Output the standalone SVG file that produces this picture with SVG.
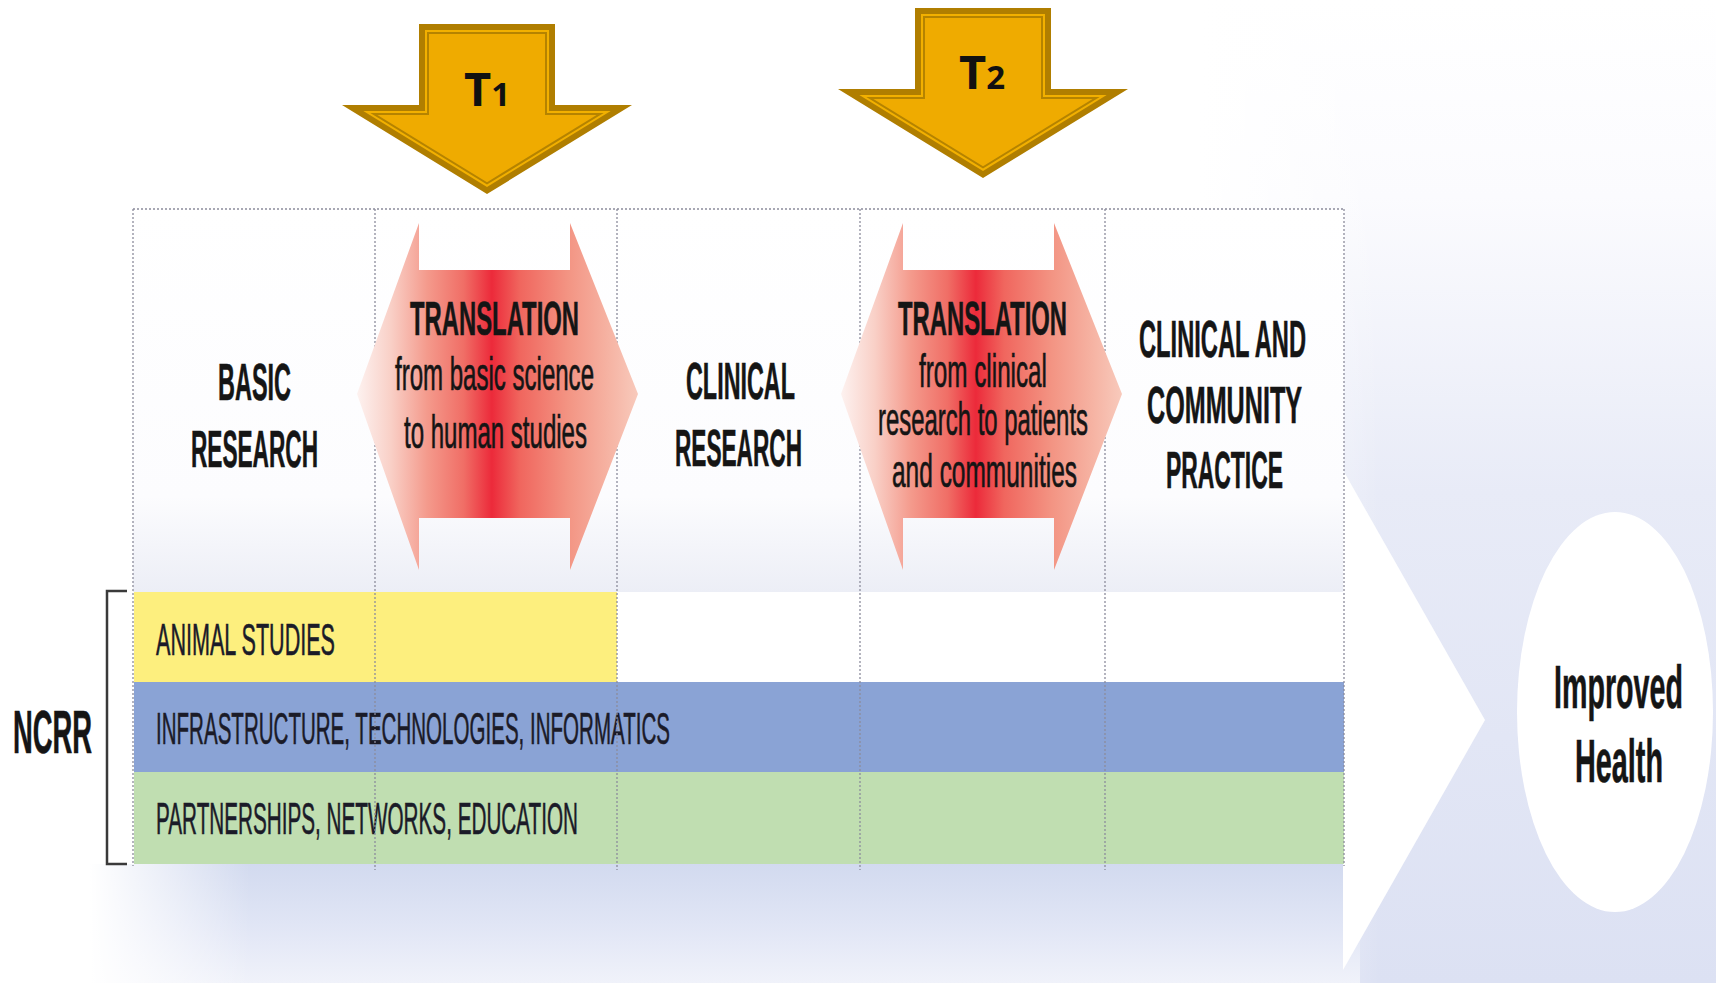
<svg xmlns="http://www.w3.org/2000/svg" xmlns:xlink="http://www.w3.org/1999/xlink" width="1716" height="983" viewBox="0 0 1716 983">
<style>
.cond{font-family:"Liberation Sans Narrow","Liberation Sans",Arial,sans-serif;fill:#151515}
.hd{font-size:52px;font-weight:bold;stroke:#151515;stroke-width:0.6}
.tr{font-size:49px;font-weight:bold;stroke:#151515;stroke-width:0.6}
.sub{font-size:47px;stroke:#151515;stroke-width:0.7}
.band{font-size:45px;fill:#1b1b28;stroke:#1b1b28;stroke-width:0.6}
.big{font-size:62px;font-weight:bold;stroke:#151515;stroke-width:0.6}
.tlab{font-family:"Open Sans","Noto Sans",sans-serif;font-weight:bold;fill:#111}
.grid{stroke:#8c8c9c;stroke-width:1.3;stroke-dasharray:2 2;fill:none}
</style>
<defs>
<linearGradient id="hexg" x1="0" y1="0" x2="1" y2="0">
<stop offset="0" stop-color="#fdf2f0"/>
<stop offset="0.12" stop-color="#f9d0c7"/>
<stop offset="0.25" stop-color="#f49a8c"/>
<stop offset="0.38" stop-color="#f06e66"/>
<stop offset="0.48" stop-color="#ec2a3a"/>
<stop offset="0.58" stop-color="#f0665e"/>
<stop offset="0.75" stop-color="#f39483"/>
<stop offset="0.9" stop-color="#f6b4a4"/>
<stop offset="1" stop-color="#f8cabc"/>
</linearGradient>
<linearGradient id="rightbg" x1="0" y1="0" x2="0" y2="1">
<stop offset="0" stop-color="#ffffff"/>
<stop offset="0.2" stop-color="#fbfbfe"/>
<stop offset="0.5" stop-color="#e8ebf7"/>
<stop offset="1" stop-color="#dce1f3"/>
</linearGradient>
<linearGradient id="botbg" x1="0" y1="0" x2="0" y2="1">
<stop offset="0" stop-color="#d2daef"/>
<stop offset="0.5" stop-color="#e0e5f5"/>
<stop offset="1" stop-color="#f0f2fa"/>
</linearGradient>
<linearGradient id="leftfade" x1="0" y1="0" x2="1" y2="0">
<stop offset="0" stop-color="#ffffff" stop-opacity="1"/>
<stop offset="1" stop-color="#ffffff" stop-opacity="0"/>
</linearGradient>
<linearGradient id="hdrbg" x1="0" y1="0" x2="0" y2="1">
<stop offset="0" stop-color="#ffffff"/>
<stop offset="0.75" stop-color="#fcfcfe"/>
<stop offset="1" stop-color="#eceef6"/>
</linearGradient>
<g id="goldArrow">
<polygon points="419,24 555,24 555,105 632,105 487,194 342,105 419,105" fill="#b07e00"/>
<polygon points="425,30 549,30 549,111 610.7,111 487,186.9 363.3,111 425,111" fill="#f2b000"/>
<polygon points="427,32 547,32 547,113 603.7,113 487,184.5 370.3,113 427,113" fill="#b58300"/>
<polygon points="429,34 545,34 545,115 596.6,115 487,182.2 377.4,115 429,115" fill="#efab00"/>
</g>
<path id="hexShape" d="M419,223 L419,270 L570,270 L570,223 L638,394 L570,570 L570,518 L419,518 L419,570 L357,394 Z"/>
</defs>

<g id="background">
<rect x="0" y="0" width="1716" height="983" fill="#ffffff"/>
<rect x="1200" y="0" width="516" height="983" fill="url(#rightbg)"/>
<rect x="1200" y="0" width="180" height="983" fill="url(#leftfade)"/>
<rect x="90" y="864" width="1270" height="119" fill="url(#botbg)"/>
<rect x="90" y="864" width="160" height="119" fill="url(#leftfade)"/>
<rect x="133" y="209" width="1211" height="383" fill="url(#hdrbg)"/>
<rect x="133" y="592" width="1211" height="90" fill="#ffffff"/>
</g>

<g id="connectors">
<polygon id="flow-chevron" points="1343,470 1485,720 1343,970" fill="#ffffff"/>
</g>

<g id="bands">
<rect id="band-animal" x="134" y="592" width="483" height="91" fill="#fdef7e"/>
<rect id="band-infra" x="134" y="682" width="1210" height="91" fill="#8aa3d5"/>
<rect id="band-partner" x="134" y="772" width="1210" height="92" fill="#c0deb1"/>
<text class="cond band" x="156" y="655" textLength="179" lengthAdjust="spacingAndGlyphs">ANIMAL STUDIES</text>
<text class="cond band" x="156" y="744" textLength="514" lengthAdjust="spacingAndGlyphs">INFRASTRUCTURE, TECHNOLOGIES, INFORMATICS</text>
<text class="cond band" x="156" y="834" textLength="422" lengthAdjust="spacingAndGlyphs">PARTNERSHIPS, NETWORKS, EDUCATION</text>
</g>

<g id="grid">
<line class="grid" x1="133" y1="209" x2="1344" y2="209"/>
<line class="grid" x1="133" y1="209" x2="133" y2="866"/>
<line class="grid" x1="375" y1="209" x2="375" y2="870"/>
<line class="grid" x1="617" y1="209" x2="617" y2="870"/>
<line class="grid" x1="860" y1="209" x2="860" y2="870"/>
<line class="grid" x1="1105" y1="209" x2="1105" y2="870"/>
<line class="grid" x1="1344" y1="209" x2="1344" y2="866"/>
</g>

<g id="t1-arrow">
<use xlink:href="#goldArrow" href="#goldArrow"/>
<text class="tlab" x="487" y="106" text-anchor="middle" font-size="47">T<tspan font-size="33">1</tspan></text>
</g>
<g id="t2-arrow">
<use xlink:href="#goldArrow" href="#goldArrow" transform="translate(496,-16)"/>
<text class="tlab" x="982" y="89" text-anchor="middle" font-size="47">T<tspan font-size="33">2</tspan></text>
</g>

<g id="translation-1">
<use xlink:href="#hexShape" href="#hexShape" fill="url(#hexg)"/>
<text class="cond tr" x="410" y="335" textLength="169" lengthAdjust="spacingAndGlyphs">TRANSLATION</text>
<text class="cond sub" x="395" y="390" textLength="199" lengthAdjust="spacingAndGlyphs">from basic science</text>
<text class="cond sub" x="404" y="448" textLength="183" lengthAdjust="spacingAndGlyphs">to human studies</text>
</g>

<g id="translation-2">
<use xlink:href="#hexShape" href="#hexShape" fill="url(#hexg)" transform="translate(484,0)"/>
<text class="cond tr" x="898" y="335" textLength="169" lengthAdjust="spacingAndGlyphs">TRANSLATION</text>
<text class="cond sub" x="919" y="387" textLength="128" lengthAdjust="spacingAndGlyphs">from clinical</text>
<text class="cond sub" x="878" y="435" textLength="210" lengthAdjust="spacingAndGlyphs">research to patients</text>
<text class="cond sub" x="892" y="487" textLength="185" lengthAdjust="spacingAndGlyphs">and communities</text>
</g>

<g id="basic-research">
<text class="cond hd" x="218" y="400" textLength="73" lengthAdjust="spacingAndGlyphs">BASIC</text>
<text class="cond hd" x="191" y="467" textLength="127" lengthAdjust="spacingAndGlyphs">RESEARCH</text>
</g>

<g id="clinical-research">
<text class="cond hd" x="686" y="399" textLength="109" lengthAdjust="spacingAndGlyphs">CLINICAL</text>
<text class="cond hd" x="675" y="466" textLength="127" lengthAdjust="spacingAndGlyphs">RESEARCH</text>
</g>

<g id="community-practice">
<text class="cond hd" x="1139" y="357" textLength="167" lengthAdjust="spacingAndGlyphs">CLINICAL AND</text>
<text class="cond hd" x="1147" y="423" textLength="155" lengthAdjust="spacingAndGlyphs">COMMUNITY</text>
<text class="cond hd" x="1166" y="488" textLength="117" lengthAdjust="spacingAndGlyphs">PRACTICE</text>
</g>

<g id="ncrr">
<path d="M127,591 H107 V864 H127" fill="none" stroke="#3a3a3a" stroke-width="2.5"/>
<text class="cond big" x="13" y="753" textLength="79" lengthAdjust="spacingAndGlyphs">NCRR</text>
</g>

<g id="improved-health">
<ellipse cx="1615" cy="712" rx="98" ry="200" fill="#ffffff"/>
<text class="cond big" x="1554" y="708" textLength="129" lengthAdjust="spacingAndGlyphs">Improved</text>
<text class="cond big" x="1575" y="782" textLength="88" lengthAdjust="spacingAndGlyphs">Health</text>
</g>
</svg>
